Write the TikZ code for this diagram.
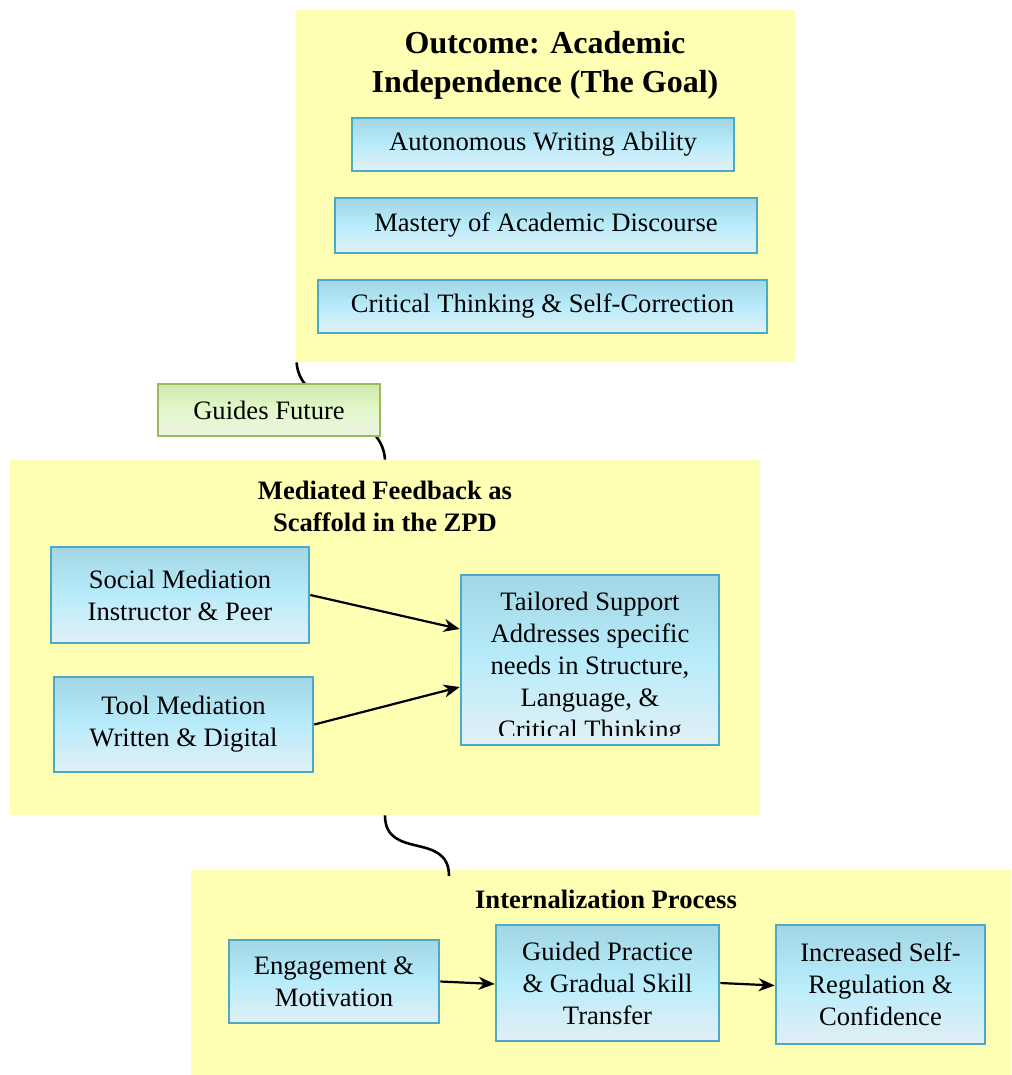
\documentclass[tikz,border=0pt]{standalone}
\usepackage{fontspec}
\setmainfont{Liberation Serif}
\usepackage{xcolor}
\usepackage{tikz}
\usetikzlibrary{arrows.meta}

\definecolor{clusterfill}{RGB}{255,255,180}
\definecolor{boxline}{RGB}{75,170,198}
\definecolor{boxtop}{RGB}{163,214,228}
\definecolor{boxmid}{RGB}{185,236,251}
\definecolor{boxbottom}{RGB}{226,239,245}
\definecolor{noteline}{RGB}{155,187,89}
\definecolor{notetop}{RGB}{206,232,172}
\definecolor{notemid}{RGB}{226,248,202}
\definecolor{notebottom}{RGB}{239,243,226}

\begin{document}
\begin{tikzpicture}[
  x=0.5pt, y=-0.5pt,
  font=\fontsize{13.3}{16}\selectfont,
  cluster/.style={fill=clusterfill, inner sep=0pt},
  title/.style={font=\fontsize{13.3}{16}\selectfont\bfseries, align=center},
  box/.style={draw=boxline, line width=1.3pt, top color=boxtop, bottom color=boxbottom, middle color=boxmid, align=center, inner sep=2pt},
  note/.style={draw=noteline, line width=1.3pt, top color=notetop, bottom color=notebottom, middle color=notemid, align=center, inner sep=2pt},
  arrow/.style={-{Stealth[length=8pt,width=6.5pt,inset=2.5pt]}, line width=1.1pt},
  link/.style={line width=1.3pt}
]
  \useasboundingbox (0,0) rectangle (1011,1075);

  % Clusters
  \node[cluster, minimum width=249.5pt, minimum height=176pt] (out) at (545.5,186) {};
  \node[cluster, minimum width=375pt, minimum height=177.5pt] (med) at (385,637.5) {};
  \node[cluster, minimum width=410pt, minimum height=102.5pt] (int) at (601,972.5) {};

  % Links between clusters
  \coordinate (gfstart) at ([xshift=0.5pt]out.south west);
  \coordinate (intin) at (449,876);
  \draw[link] (gfstart) .. controls +(3,48) and +(-3,-50) .. (med.north);
  \draw[link] (med.south) .. controls +(0,45) and +(0,-45) .. (intin);
  \node[note, minimum width=111pt, minimum height=26pt] (gf) at (269,410) {Guides Future};

  % Outcome
  \node[title, font=\fontsize{16}{19.5}\selectfont\bfseries] (outtitle) at (545,65) {Outcome: Academic\\Independence (The Goal)};
  \node[box, minimum width=191pt, minimum height=26.5pt] (awa) at (543,144.5) {Autonomous Writing Ability};
  \node[box, minimum width=211pt, minimum height=27.5pt] (mad) at (546,225.5) {Mastery of Academic Discourse};
  \node[box, minimum width=224.5pt, minimum height=26.5pt] (cts) at (542.5,306.5) {Critical Thinking \& Self-Correction};

  % Mediated feedback
  \node[title] (medtitle) at (385,506) {Mediated Feedback as\\Scaffold in the ZPD};
  \node[box, minimum width=129pt, minimum height=48pt] (sm) at (180,595) {Social Mediation\\Instructor \& Peer};
  \node[box, minimum width=129.5pt, minimum height=47.5pt] (tm) at (183.5,724.5) {Tool Mediation\\Written \& Digital};
  \node[box, minimum width=129pt, minimum height=85pt] (ts) at (590,660) {};
  \begin{scope}
    \clip (463,577) rectangle (717,735);
    \node[align=center] (tstext) at (590,668) {Tailored Support\\Addresses specific\\needs in Structure,\\Language, \&\\Critical Thinking};
  \end{scope}

  % Internalization
  \node[title] (inttitle) at (606,899) {Internalization Process};
  \node[box, minimum width=105pt, minimum height=41.5pt] (em) at (334,981.5) {Engagement \&\\Motivation};
  \node[box, minimum width=111.5pt, minimum height=58pt] (gp) at (607.5,983) {Guided Practice\\\& Gradual Skill\\Transfer};
  \node[box, minimum width=104.5pt, minimum height=59.5pt] (sr) at (880.5,984.5) {Increased Self-\\Regulation \&\\Confidence};

  % Arrows
  \draw[arrow] (sm.east) -- ([yshift=15.5pt]ts.west);
  \draw[arrow] (tm.east) -- ([yshift=-13.5pt]ts.west);
  \draw[arrow] (em.east) -- ([yshift=-0.5pt]gp.west);
  \draw[arrow] (gp.east) -- ([yshift=-0.5pt]sr.west);
\end{tikzpicture}
\end{document}
